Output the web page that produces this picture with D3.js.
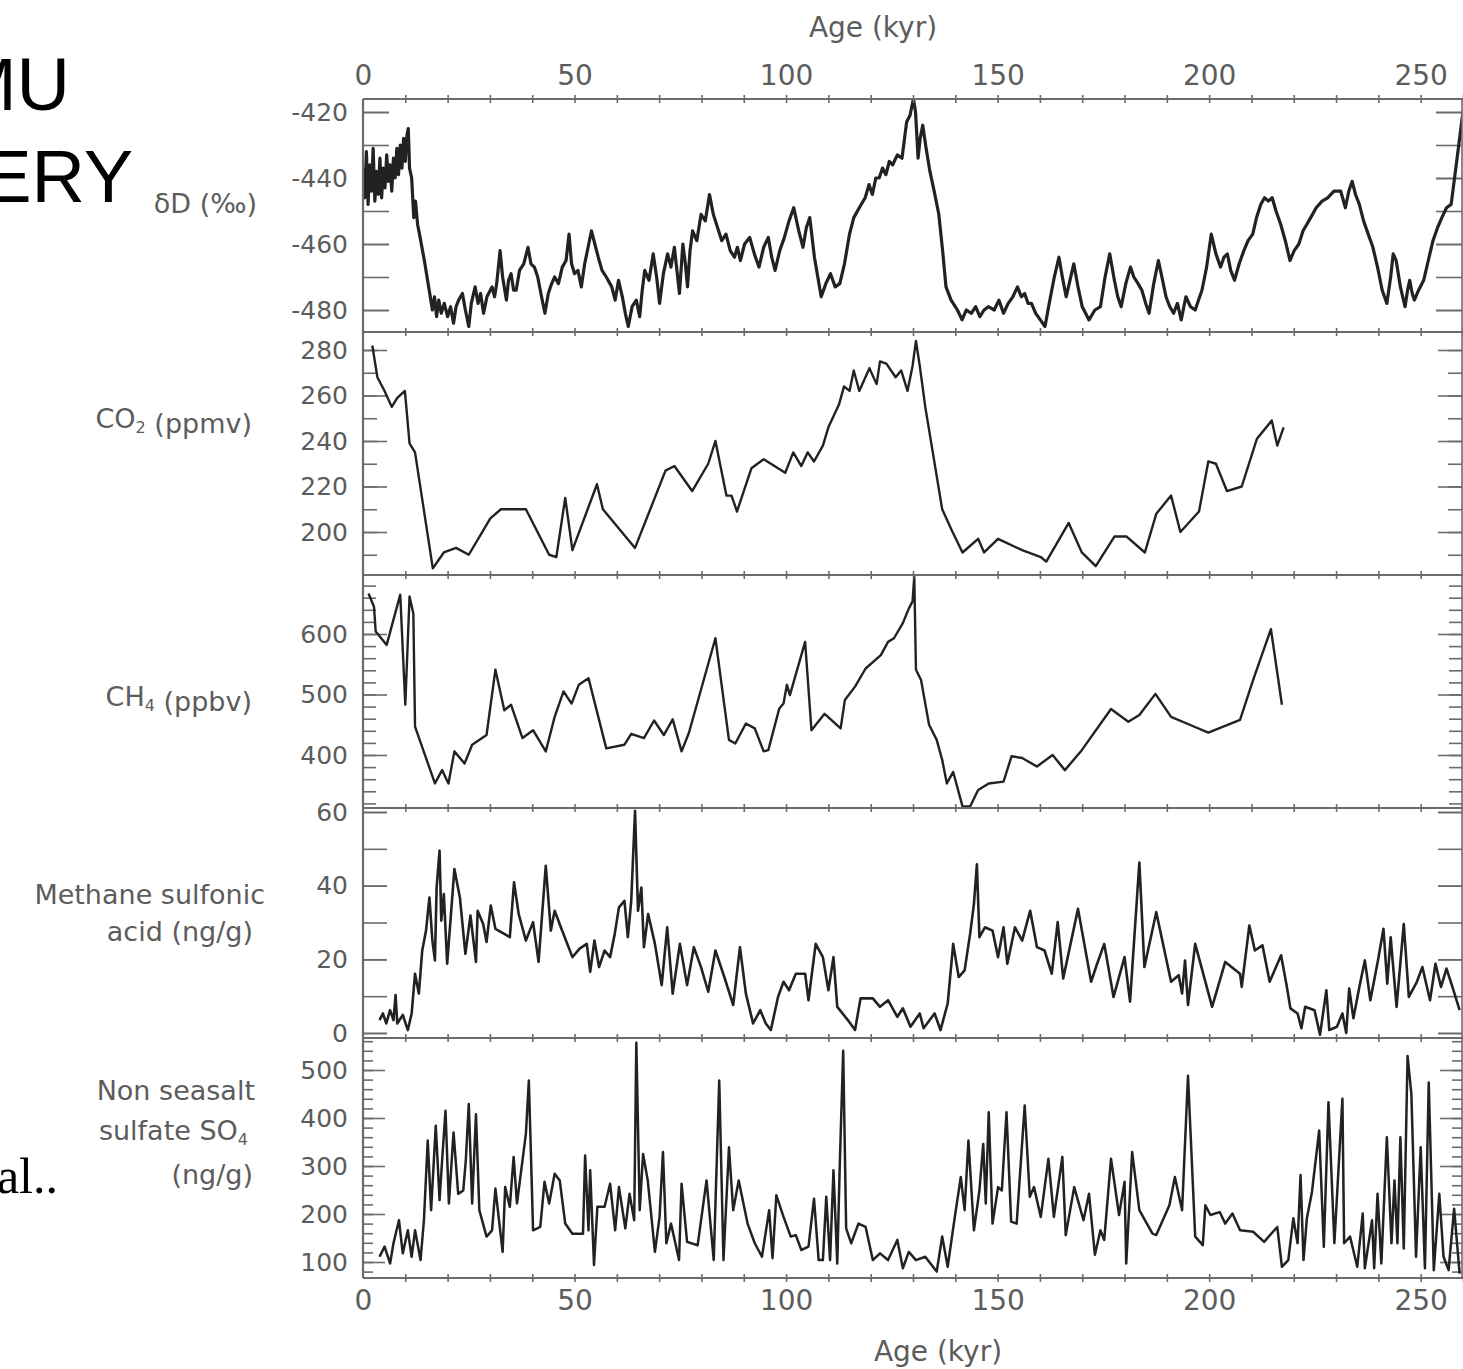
<!DOCTYPE html>
<html>
<head>
<meta charset="utf-8">
<script src="https://cdn.jsdelivr.net/npm/d3@7"></script>
<style>
  body { margin: 0; background: #fff; }
</style>
</head>
<body>
<div id="chart"></div>
<script>
// #####################################################
// Data (age in kyr, value)
//
var ageTicks = [0, 50, 100, 150, 200, 250];

var deltaD = [[0,-437],[0.4,-446],[0.8,-432],[1.2,-448],[1.6,-436],[2,-444],[2.4,-431],[2.8,-447],[3.2,-438],[3.6,-445],[4,-434],[4.4,-446],[4.8,-437],[5.2,-443],[5.6,-433],[6,-441],[6.4,-436],[6.8,-444],[7.2,-434],[7.6,-440],[8,-431],[8.4,-439],[8.8,-430],[9.2,-437],[9.6,-428],[10,-435],[10.4,-427],[10.7,-425],[11,-437],[11.5,-440],[12,-452],[12.4,-447],[12.9,-454],[13.5,-458],[14.5,-465],[15.9,-476],[16.4,-480],[16.9,-476],[17.4,-482],[17.9,-477],[18.5,-481],[19.2,-478],[20,-482],[20.7,-479],[21.4,-484],[22,-479],[22.6,-477],[23.5,-475],[24.2,-480],[25,-485],[25.6,-478],[26.5,-473],[27.2,-478],[27.8,-475],[28.5,-481],[29.3,-476],[30.5,-473],[31.1,-476],[31.6,-472],[32.4,-462],[33,-470],[33.9,-477],[34.4,-471],[35,-469],[35.6,-474],[36.2,-474],[37,-468],[38,-466],[39,-461],[39.7,-466],[40.5,-467],[41.3,-470],[42.2,-476],[43,-481],[43.8,-475],[44.6,-472],[45.3,-470],[46.2,-472],[47.1,-467],[48,-465],[48.7,-457],[49.3,-466],[50,-469],[50.8,-468],[51.6,-473],[52.4,-466],[53.2,-461],[54,-456],[54.8,-460],[55.6,-464],[56.5,-468],[57.5,-470],[58.8,-473],[59.6,-477],[60.4,-471],[61.3,-476],[62,-481],[62.7,-485],[63.6,-479],[64.6,-477],[65.4,-482],[66,-474],[66.6,-468],[67.6,-471],[68.6,-463],[69.4,-470],[70.1,-478],[71,-469],[72,-463],[72.8,-467],[73.6,-461],[74.2,-468],[74.8,-475],[75.6,-460],[76.2,-466],[76.7,-473],[77.3,-462],[77.9,-456],[78.9,-459],[79.9,-451],[80.9,-453],[81.9,-445],[82.8,-451],[83.8,-455],[84.8,-459],[85.8,-457],[86.8,-462],[87.8,-464],[88.5,-461],[89.2,-465],[90.2,-460],[91.4,-458],[92.5,-463],[93.6,-467],[94.7,-461],[95.8,-458],[96.6,-464],[97.4,-468],[98.5,-462],[99.6,-458],[100.7,-453],[101.8,-449],[103,-456],[104,-461],[104.8,-455],[105.6,-452],[106.7,-464],[107.5,-470],[108.3,-476],[109.4,-472],[110.5,-469],[111.6,-473],[112.7,-472],[113.8,-466],[115,-457],[116,-452],[117.3,-449],[118.7,-446],[119.6,-442],[120.4,-445],[121.2,-440],[122,-440],[122.8,-437],[123.6,-439],[124.4,-435],[125.2,-436],[126.3,-433],[127.4,-434],[128,-428],[128.5,-423],[129.3,-421],[130.1,-416],[130.6,-420],[131.2,-434],[131.7,-428],[132.3,-424],[133.1,-431],[134,-438],[135,-444],[136.1,-451],[137,-462],[137.8,-473],[139,-477],[140.5,-480],[141.6,-483],[142.6,-480],[143.8,-481],[144.8,-479],[145.8,-482],[146.8,-480],[147.8,-479],[149.2,-480],[150.3,-477],[151.4,-481],[152.5,-478],[153.6,-476],[154.7,-473],[155.6,-476],[156.4,-475],[157.2,-478],[158,-478],[159,-481],[160.1,-483],[161.2,-485],[162.2,-478],[163.4,-470],[164.5,-464],[165.3,-470],[166.2,-476],[167.1,-471],[168,-466],[169,-473],[170,-479],[170.8,-481],[171.6,-483],[173,-480],[174.3,-479],[175.4,-470],[176.5,-463],[177.6,-471],[178.4,-476],[179.2,-479],[180.3,-472],[181.4,-467],[182.2,-470],[183.2,-472],[184.1,-474],[185,-478],[185.8,-481],[186.9,-472],[188,-465],[189,-471],[189.8,-476],[190.7,-479],[191.6,-481],[192.5,-478],[193.4,-483],[194.5,-476],[195.6,-479],[196.7,-480],[197.5,-477],[198.3,-474],[199.4,-467],[200.5,-457],[201.6,-463],[202.7,-467],[203.5,-464],[204.3,-463],[205.1,-468],[206,-471],[207.1,-466],[208.2,-462],[209.2,-459],[210.3,-457],[211.2,-452],[212.2,-448],[213.1,-446],[214,-447],[214.9,-446],[215.8,-450],[216.9,-454],[218,-459],[219.1,-465],[220.1,-462],[221.2,-460],[222.2,-456],[223.1,-454],[224,-452],[225.3,-449],[226.7,-447],[228,-446],[229.5,-444],[231.1,-444],[232.2,-449],[233,-444],[233.8,-441],[234.6,-445],[235.5,-448],[236.5,-453],[237.6,-457],[238.7,-461],[239.8,-467],[240.9,-474],[242,-478],[242.9,-470],[243.5,-463],[244.2,-465],[245.2,-473],[246.3,-479],[246.9,-474],[247.4,-471],[248,-475],[248.5,-477],[249.5,-474],[250.7,-471],[251.8,-465],[252.9,-459],[254,-455],[255,-452],[256.1,-449],[257.2,-448],[258.3,-437],[259.4,-426],[260,-420]];

var co2 = [[2.2,282],[3.4,268],[5.1,262],[6.8,255],[8.1,259],[9.9,262],[11,239],[12.3,235],[16.5,184],[19.1,191],[22,193],[25,190],[30.1,206],[32.6,210],[38.5,210],[44,190],[45.7,189],[47.8,215],[49.5,192],[55.3,221],[56.7,210],[64.3,193],[71.5,227],[73.6,229],[77.8,218],[81.6,230],[83.3,240],[85.9,216],[87.1,216],[88.4,209],[91.8,228],[94.7,232],[99.8,226],[101.7,235],[103.6,229],[105.1,235],[106.6,231],[108.7,238],[110,246],[112.5,256],[113.7,264],[115,262],[116,271],[117.3,262],[119.7,272],[121.4,265],[122.2,275],[123.7,274],[125.9,268],[127.2,271],[128.7,262],[129.9,273],[130.7,284],[131.6,273],[132.9,255],[136.9,210],[139.1,201],[141.7,191],[145.4,197],[146.8,191],[150.1,197],[155.8,192],[160.2,189],[161.5,187],[166.8,204],[169.9,191],[173.2,185],[177.6,198],[180.5,198],[184.8,191],[187.5,208],[191,216],[193.2,200],[197.6,209],[199.8,231],[201.6,230],[204.2,218],[207.7,220],[211.3,241],[214.8,249],[216.1,238],[217.6,246]];

var ch4 = [[1.3,667],[2.6,645],[3,604],[5.6,582],[8.8,665],[10,483],[11,662],[11.9,634],[12.3,447],[14.8,397],[17,353],[18.7,375],[20.2,353],[21.6,406],[24,386],[25.8,417],[29.2,433],[31.3,541],[33.4,474],[35,483],[37.7,428],[40.2,441],[43.2,406],[45.3,463],[47.4,505],[49.3,485],[51,516],[53.3,527],[57.5,411],[61.8,417],[63.4,435],[66.4,428],[68.8,457],[71.1,433],[73.2,459],[75.3,406],[77,436],[83.3,593],[86.5,425],[88,419],[90.5,452],[92.6,444],[94.7,406],[95.8,408],[98.4,477],[99.4,485],[100.2,516],[100.9,499],[104.5,587],[106,441],[109.1,468],[112.9,444],[113.9,491],[116.3,513],[118.8,543],[122.4,565],[124.1,587],[125.5,593],[127.6,618],[129,642],[129.9,654],[130.3,695],[130.7,541],[131.9,524],[133.8,450],[135.6,425],[136.9,392],[138,353],[139.5,372],[141.7,315],[143.5,315],[145.4,342],[147.9,353],[151.4,356],[153.3,398],[155.8,395],[159.3,381],[163,400],[165.9,375],[169.9,408],[176.8,476],[180.9,455],[183.5,466],[187.3,501],[191,463],[195.4,450],[199.8,437],[207.3,458],[210.4,524],[214.6,608],[217.2,483]];

var msa = [[3.9,3.5],[4.7,5.3],[5.5,2.6],[6.4,6.2],[7.2,3.5],[7.7,10.3],[8.1,2.6],[9.4,4.9],[10.6,0.8],[11.5,5.3],[12.3,16.1],[13.2,10.7],[14,22.4],[14.9,27.8],[15.7,36.8],[16.4,25.1],[17,19.7],[17.4,39.5],[18.1,49.5],[18.5,30.5],[19.1,37.7],[19.9,18.8],[21.6,44.5],[22.9,36.8],[24.2,21.5],[25.4,31.9],[26.7,19.3],[27.1,33.2],[28.4,29.6],[29.2,24.7],[30.2,34.6],[31.3,28.3],[33.4,26.9],[34.7,26],[35.7,40.9],[36.8,32.3],[38.5,25.1],[40.2,30.1],[41.5,19.3],[43.2,45.4],[44.4,27.8],[45.3,33.2],[46.9,28.3],[49.5,20.6],[51.2,22.9],[52.9,24.2],[53.7,16.6],[54.7,25.1],[55.8,17.9],[57.1,22.4],[58.4,20.6],[59.5,26.9],[60.5,34.1],[61.8,35.9],[62.6,26],[63.4,35.9],[64.3,60.3],[65,33.2],[65.8,39.5],[66.4,23.3],[67.4,32.3],[69,24.2],[70.6,13],[71.9,28.7],[73.2,10.7],[74.9,24.2],[76.6,13],[78.2,23.3],[79.9,17.9],[81.6,11.2],[83.3,22.4],[85.4,15.2],[87.5,7.6],[89.1,23.3],[90.5,10.7],[92.2,2.6],[93.9,6.2],[95.2,2.6],[96.4,0.8],[98.1,9.8],[99.4,13.9],[100.7,11.6],[102.3,16.1],[104.5,16.1],[105.3,8.9],[107,24.2],[108.7,20.6],[110,11.6],[111.2,20.6],[112.1,7.1],[114.6,3.5],[116.3,0.8],[117.6,9.4],[120.5,9.4],[122.2,7.1],[124.1,8.9],[126.3,4.4],[127.6,6.7],[129.4,1.7],[131.6,5.3],[132.5,1.3],[135.1,5.3],[136.5,0.8],[138.2,8],[139.5,24.2],[140.8,15.2],[142.2,17],[143.5,26.9],[144.4,35],[145.1,45.8],[145.7,26],[147,28.7],[148.8,27.8],[150.1,20.6],[151.4,28.7],[152.3,18.8],[154.1,28.7],[155.8,25.1],[157.7,33.2],[159.3,23.3],[161.1,22.4],[162.8,16.1],[164.2,30.1],[165.5,14.8],[169,33.7],[172.1,13.9],[173.4,18.4],[175.2,24.2],[177.4,9.8],[180,20.6],[181.3,8.5],[183.5,46.3],[184.7,17.9],[187.5,32.8],[191,13.9],[192.8,15.7],[193.6,10.7],[194.3,19.7],[195,7.6],[196.7,24.2],[200.7,7.1],[203.8,19.3],[207.3,16.1],[207.7,12.5],[209.5,29.2],[210.8,22.4],[212.6,23.8],[214.3,13.9],[217,21.1],[218.3,13],[219.2,6.7],[220.9,5.3],[221.8,1.3],[222.7,7.1],[224.9,6.2],[226.2,-0.5],[227.7,11.6],[228.4,0.8],[230.2,1.7],[231.5,5.3],[232.4,0],[233.1,12.1],[234.1,4],[235.5,12.5],[236.8,19.7],[238.1,8.9],[239.9,19.7],[241.2,28.3],[242.1,13.4],[242.9,26],[244.3,7.1],[246,29.6],[247.2,9.8],[249.1,13.9],[250.4,17.9],[252.2,8.9],[253.5,18.8],[254.8,12.5],[256.1,17.5],[257.5,12.5],[259.2,6.2]];

var sulfate = [[3.9,111],[5.1,132],[6.4,97],[7.2,139],[8.5,187],[9.4,118],[10.6,166],[11.5,111],[12.3,166],[13.6,104],[14.4,187],[15.3,353],[16.1,208],[17.2,384],[18.1,229],[18.7,312],[19.5,415],[20.3,222],[21.4,370],[22.5,242],[23.7,249],[24.3,312],[25,429],[25.8,222],[26.7,408],[27.5,208],[29.2,153],[30.5,166],[31.3,253],[33,121],[33.6,256],[34.7,215],[35.6,319],[36.4,222],[38.5,367],[39.2,478],[40.2,166],[41.9,173],[42.9,267],[44,222],[45.3,284],[46.5,270],[47.8,180],[49.5,159],[52,159],[52.5,322],[53.3,166],[53.7,291],[54.6,94],[55.4,215],[57.1,215],[58.4,263],[59.6,166],[60.5,256],[62,170],[63,242],[64.1,187],[64.6,557],[65.4,208],[66.2,325],[67.3,270],[69,121],[70.1,194],[70.9,329],[71.7,139],[72.8,180],[74.7,104],[75.3,263],[76.6,142],[79.1,135],[81.2,270],[82.9,104],[84.2,478],[85.2,104],[86.5,339],[87.5,208],[88.8,270],[90.9,180],[92.6,139],[94.3,111],[96,208],[96.8,108],[97.7,239],[99.4,194],[101.1,153],[102.3,156],[103.6,125],[105.3,132],[106.6,232],[107.7,104],[108.7,104],[109.5,236],[110.4,104],[111.2,291],[112.1,97],[112.7,305],[113.5,540],[114.2,170],[115.4,139],[117.1,180],[118.8,173],[120.5,104],[122.2,118],[124.1,104],[126.3,146],[127.6,87],[129,121],[130.7,104],[132.9,111],[135.6,80],[136.9,153],[138.2,90],[140,201],[141.3,277],[142.2,208],[143.1,353],[144.4,166],[145.7,249],[146.6,346],[147.2,222],[147.9,412],[148.8,180],[150.1,256],[151,249],[152.1,412],[153.2,184],[154.5,180],[156.4,426],[157.6,236],[158.6,256],[160.2,194],[162,315],[163.3,194],[165.3,319],[166.1,156],[168.1,256],[170.3,187],[171.6,242],[173,115],[174.3,166],[175.2,146],[176.8,315],[178.7,198],[180,267],[180.4,97],[181.8,329],[183.5,208],[186.6,159],[187.5,156],[190.6,218],[191.9,277],[193.6,208],[195,488],[196.7,153],[198.5,135],[199.1,218],[200.3,198],[202.5,204],[203.8,180],[205.5,201],[207.3,166],[210.4,163],[213,142],[216.1,173],[217.2,90],[218.7,104],[219.9,191],[220.9,139],[221.6,281],[222.3,104],[223.1,191],[224.3,246],[226,374],[227.1,132],[228.2,433],[229.6,139],[231.5,440],[231.9,139],[233.3,153],[235,90],[236.3,201],[236.8,87],[238.5,187],[239,87],[239.8,242],[240.7,97],[242,360],[243.1,139],[243.8,270],[244.5,139],[245.2,360],[246,128],[246.9,529],[247.8,450],[248.9,111],[250,339],[251,87],[251.9,474],[253.1,83],[254.4,242],[255.4,111],[256.6,83],[257.9,211],[259.2,76]];

// #####################################################
// Panels: vertical extent, value <-> pixel anchors, tick steps
//
var panels = [
  {data: deltaD, top: 99,   bottom: 332,  dom: [-480, -420], rng: [310, 112],  minor: 10, major: 20, lo: -480, hi: -420, minorLen: 26, majorLen: 26, width: 3.2},
  {data: co2,    top: 332,  bottom: 575,  dom: [200, 280],   rng: [532, 350],  minor: 10, major: 20, lo: 190, hi: 280, minorLen: 14, majorLen: 24, width: 2.4},
  {data: ch4,    top: 575,  bottom: 808,  dom: [400, 600],   rng: [755, 634],  minor: 20, major: 100, lo: 320, hi: 680, minorLen: 13, majorLen: 24, width: 2.4},
  {data: msa,    top: 808,  bottom: 1038, dom: [0, 60],      rng: [1033, 812], minor: 10, major: 20, lo: 0, hi: 60, minorLen: 24, majorLen: 24, width: 2.6},
  {data: sulfate, top: 1038, bottom: 1278, dom: [100, 500],  rng: [1262, 1070], minor: 20, major: 100, lo: 80, hi: 560, minorLen: 10, majorLen: 22, width: 2.5}
];

var W = 1463, H = 1369;
var left = 363, right = 1462;
var axisGray = "#6b6b6b";
var textGray = "#5c5c5c";
var sans = "'DejaVu Sans', sans-serif";

var svg = d3.select("#chart").append("svg")
    .attr("width", W)
    .attr("height", H)
    .style("font-family", sans);

var x = d3.scaleLinear().domain([0, 260]).range([left, 1463]);

// plain hyphen, like the printed figure
var plain = function (d) { return String(d); };

function style_axis (g) {
  g.select(".domain").remove();
  g.selectAll("line").attr("stroke", axisGray).attr("stroke-width", 1.6);
  g.selectAll("text").style("font-family", sans);
}

// #####################################################
// Panels
//
panels.forEach(function (p, i) {
  var y = d3.scaleLinear().domain(p.dom).range(p.rng);

  svg.append("clipPath")
      .attr("id", "clip" + i)
    .append("rect")
      .attr("x", left)
      .attr("y", p.top)
      .attr("width", right - left)
      .attr("height", p.bottom - p.top);

  var minorTicks = d3.range(p.lo, p.hi + 0.001, p.minor);
  var majorTicks = minorTicks.filter(function (v) { return v % p.major == 0; });

  // minor ticks left + right
  svg.append("g")
      .attr("transform", "translate(" + left + ",0)")
      .call(d3.axisLeft(y).tickValues(minorTicks).tickSize(-p.minorLen).tickFormat(""))
      .call(style_axis);
  svg.append("g")
      .attr("transform", "translate(" + right + ",0)")
      .call(d3.axisRight(y).tickValues(minorTicks).tickSize(-p.minorLen).tickFormat(""))
      .call(style_axis);

  // major ticks with labels
  svg.append("g")
      .attr("transform", "translate(" + left + ",0)")
      .call(d3.axisLeft(y).tickValues(majorTicks).tickSize(-p.majorLen).tickPadding(15).tickFormat(plain))
      .call(style_axis)
      .selectAll("text")
        .attr("font-size", 25)
        .attr("fill", textGray);
  svg.append("g")
      .attr("transform", "translate(" + right + ",0)")
      .call(d3.axisRight(y).tickValues(majorTicks).tickSize(-p.majorLen).tickFormat(""))
      .call(style_axis);

  // the record itself
  var line = d3.line()
      .x(function (d) { return x(d[0]); })
      .y(function (d) { return y(d[1]); });

  svg.append("path")
      .datum(p.data)
      .attr("clip-path", "url(#clip" + i + ")")
      .attr("fill", "none")
      .attr("stroke", "#222")
      .attr("stroke-width", p.width)
      .attr("stroke-linejoin", "round")
      .attr("d", line);
});

// #####################################################
// Frame: panel borders with little age ticks every 10 kyr
//
var borders = [99, 332, 575, 808, 1038, 1278];
borders.forEach(function (yy) {
  svg.append("line")
      .attr("x1", left).attr("x2", W)
      .attr("y1", yy).attr("y2", yy)
      .attr("stroke", axisGray)
      .attr("stroke-width", 2.2);
  svg.append("g")
      .attr("transform", "translate(0," + (yy - 4) + ")")
      .call(d3.axisBottom(x).tickValues(d3.range(10, 261, 10)).tickSize(8).tickFormat(""))
      .call(style_axis);
});

svg.append("line")
    .attr("x1", left).attr("x2", left)
    .attr("y1", 99).attr("y2", 1278)
    .attr("stroke", axisGray)
    .attr("stroke-width", 2.2);
svg.append("line")
    .attr("x1", right).attr("x2", right)
    .attr("y1", 99).attr("y2", 1278)
    .attr("stroke", axisGray)
    .attr("stroke-width", 1.6);

// Age labels top and bottom
svg.append("g")
    .attr("transform", "translate(0,99)")
    .call(d3.axisTop(x).tickValues(ageTicks).tickSize(0).tickPadding(14).tickFormat(plain))
    .call(style_axis)
    .selectAll("text")
      .attr("font-size", 28)
      .attr("fill", textGray);
svg.append("g")
    .attr("transform", "translate(0,1278)")
    .call(d3.axisBottom(x).tickValues(ageTicks).tickSize(0).tickPadding(12).tickFormat(plain))
    .call(style_axis)
    .selectAll("text")
      .attr("font-size", 28)
      .attr("fill", textGray);

svg.append("text")
    .attr("x", 873).attr("y", 37)
    .attr("text-anchor", "middle")
    .attr("font-size", 28)
    .attr("fill", textGray)
    .text("Age (kyr)");
svg.append("text")
    .attr("x", 938).attr("y", 1361)
    .attr("text-anchor", "middle")
    .attr("font-size", 28)
    .attr("fill", textGray)
    .text("Age (kyr)");

// #####################################################
// Series names on the left
//
function add_label (parts, xEnd, yBase) {
  var t = svg.append("text")
      .attr("x", xEnd).attr("y", yBase)
      .attr("text-anchor", "end")
      .attr("font-size", 27)
      .attr("fill", textGray);
  parts.forEach(function (s) {
    if (s.sub) {
      t.append("tspan").attr("font-size", 16).attr("dy", 5).text(s.sub);
      t.append("tspan").attr("dy", -5).text("");
    } else {
      t.append("tspan").text(s.txt);
    }
  });
}

add_label([{txt: "\u03b4D (\u2030)"}], 257, 213);
add_label([{txt: "CO"}, {sub: "2"}, {txt: " (ppmv)"}], 252, 428);
add_label([{txt: "CH"}, {sub: "4"}, {txt: " (ppbv)"}], 252, 706);
add_label([{txt: "Methane sulfonic"}], 265, 904);
add_label([{txt: "acid (ng/g)"}], 253, 941);
add_label([{txt: "Non seasalt"}], 255, 1100);
add_label([{txt: "sulfate SO"}, {sub: "4"}], 248, 1140);
add_label([{txt: "(ng/g)"}], 253, 1184);

// Slide text cut off at the left edge
svg.append("text")
    .attr("x", 70).attr("y", 110)
    .attr("text-anchor", "end")
    .style("font-family", "'Liberation Sans', Arial, sans-serif")
    .attr("font-size", 74)
    .attr("fill", "#000")
    .text("MU");
svg.append("text")
    .attr("x", 133).attr("y", 202)
    .attr("text-anchor", "end")
    .style("font-family", "'Liberation Sans', Arial, sans-serif")
    .attr("font-size", 74)
    .attr("fill", "#000")
    .text("ERY");
svg.append("text")
    .attr("x", 58).attr("y", 1193)
    .attr("text-anchor", "end")
    .style("font-family", "'Liberation Serif', 'Times New Roman', serif")
    .attr("font-size", 50)
    .attr("fill", "#000")
    .text("al..");
</script>
</body>
</html>
